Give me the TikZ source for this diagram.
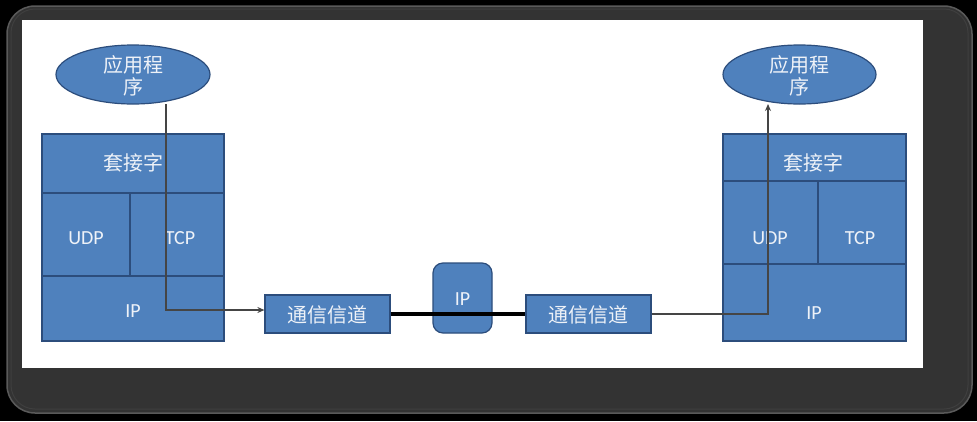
\documentclass[tikz,border=0pt]{standalone}
\usepackage{fontspec}
\setmainfont{Carlito}
\newfontfamily\cjk{Noto Sans CJK SC}
\usetikzlibrary{shapes.geometric,arrows.meta}
\definecolor{boxblue}{HTML}{4F81BD}
\definecolor{boxedge}{HTML}{2C4D7C}
\definecolor{txtc}{HTML}{EEF2F8}
\definecolor{framec}{HTML}{333333}
\definecolor{frameedge}{HTML}{5A5A5A}
\definecolor{arrowc}{HTML}{454545}
\tikzset{
  cell/.style={draw=boxedge, line width=1.2pt, fill=boxblue, inner sep=0pt},
  appell/.style={ellipse, draw=boxedge, line width=1.2pt, fill=boxblue, inner sep=0pt},
  lbl/.style={text=txtc, font=\fontsize{20}{23}\selectfont, inner sep=0pt, align=center},
  chanbox/.style={cell, minimum width=125pt, minimum height=38pt},
  conn/.style={draw=arrowc, line width=1.3pt, -{Stealth[length=7pt,width=6pt]}},
  wire/.style={draw=black, line width=3.2pt}
}
\begin{document}
\begin{tikzpicture}[x=1pt,y=-1pt]
\useasboundingbox (0,0) rectangle (977,421);
% background and frame
\fill[black] (0,0) rectangle (977,421);
\draw[fill=framec, draw=frameedge, line width=1.5pt, rounded corners=28pt] (7,6) rectangle (972,413);
\draw[draw=frameedge!70!black, line width=1pt, rounded corners=24pt] (11,9) rectangle (968,409);
\fill[white] (22,20) rectangle (923,368);

% left stack
\node[cell, minimum width=182pt, minimum height=59pt] (sockL) at (133,163.5) {};
\node[cell, minimum width=88pt, minimum height=83pt] (udpL) at (86,234.5) {};
\node[cell, minimum width=94pt, minimum height=83pt] (tcpL) at (177,234.5) {};
\node[cell, minimum width=182pt, minimum height=65pt] (ipL) at (133,308.5) {};

% right stack
\node[cell, minimum width=183pt, minimum height=47pt] (sockR) at (814.5,157.5) {};
\node[cell, minimum width=95pt, minimum height=83pt] (udpR) at (770.5,222.5) {};
\node[cell, minimum width=88pt, minimum height=83pt] (tcpR) at (862,222.5) {};
\node[cell, minimum width=183pt, minimum height=77pt] (ipR) at (814.5,302.5) {};

% application ellipses
\node[appell, minimum width=154pt, minimum height=59pt] (appL) at (133,74.5) {};
\node[appell, minimum width=153pt, minimum height=59pt] (appR) at (799.5,74.5) {};

% channels and router
\node[chanbox] (ch1) at (327.5,314) {};
\node[chanbox] (ch2) at (588.5,314) {};
\node[cell, rounded corners=10pt, minimum width=59pt, minimum height=70pt] (router) at (462.5,298) {};

% texts
\node[lbl] (tAppL) at (133,76) {\cjk 应用程\\[-1pt]\cjk 序};
\node[lbl] (tAppR) at (799.5,76) {\cjk 应用程\\[-1pt]\cjk 序};
\node[lbl] (tSockL) at (133,163) {\cjk 套接字};
\node[lbl] (tUdpL) at (86,238) {UDP};
\node[lbl] (tTcpL) at (180,238) {TCP};
\node[lbl] (tIpL) at (133,311) {IP};
\node[lbl] (tSockR) at (813,163) {\cjk 套接字};
\node[lbl] (tUdpR) at (770,238) {UDP};
\node[lbl] (tTcpR) at (860,238) {TCP};
\node[lbl] (tIpR) at (814,313) {IP};
\node[lbl] (tCh1) at (327.5,315) {\cjk 通信信道};
\node[lbl] (tCh2) at (588.5,315) {\cjk 通信信道};
\node[lbl] (tRouter) at (462.5,299) {IP};

% thick wire
\draw[wire] (ch1.east) -- (ch2.west);

% arrows
\coordinate (tapL) at (166,104);
\coordinate (tapR) at (768,104);
\draw[conn] (tapL) |- ([yshift=4pt]ch1.west);
\draw[conn] (ch2.east) -| (tapR);
\end{tikzpicture}
\end{document}
